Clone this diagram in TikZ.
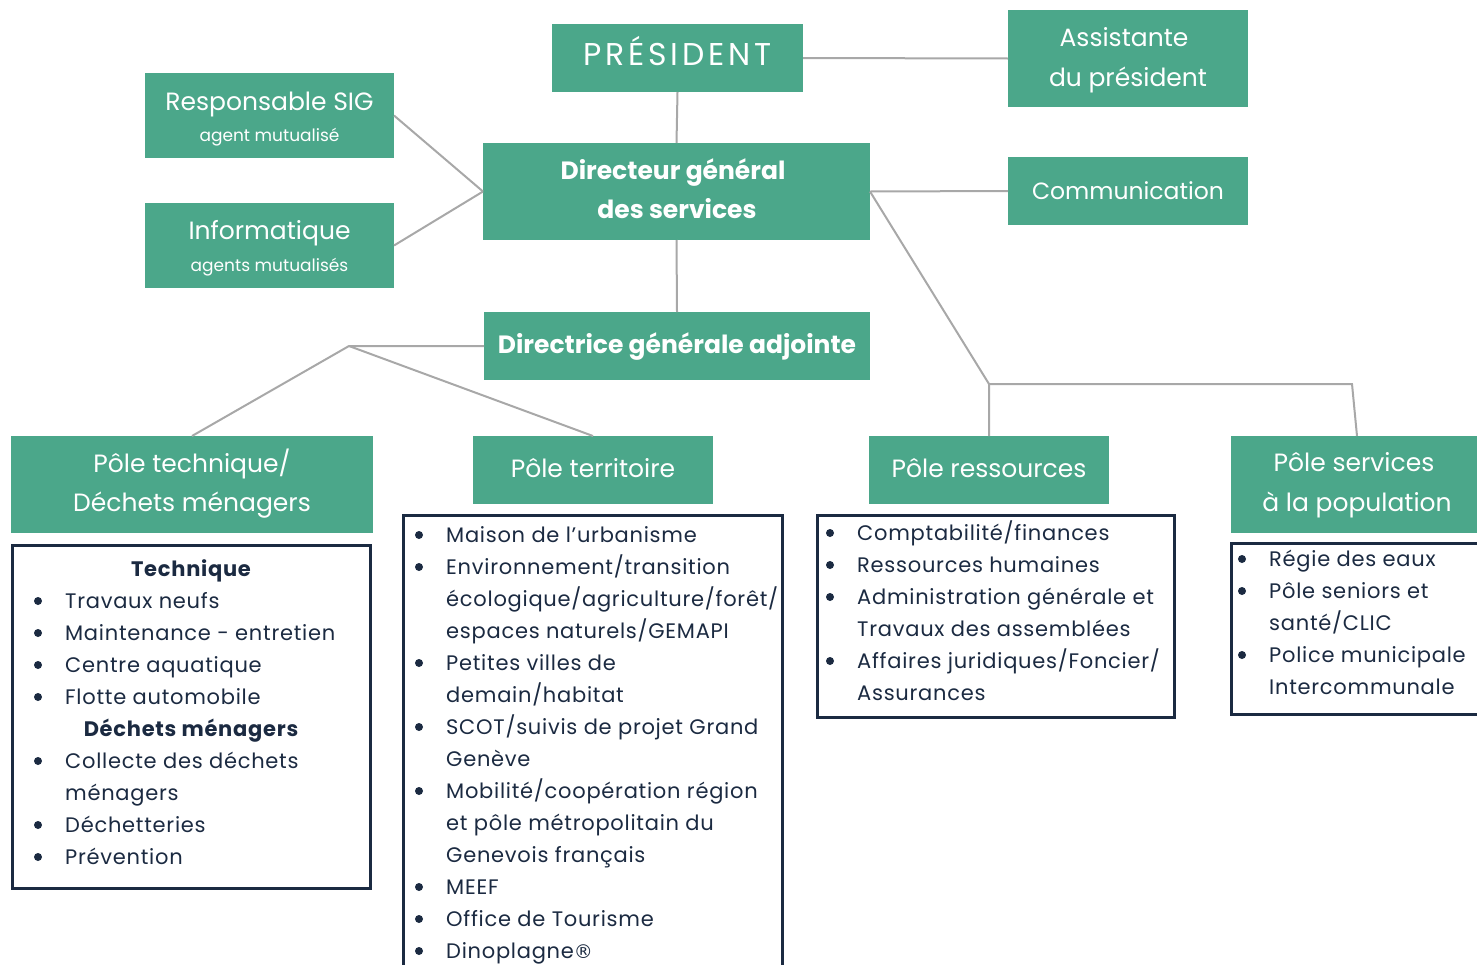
\documentclass[tikz,border=0pt]{standalone}
\usepackage{fontspec}
\setmainfont{Poppins}
\newfontfamily\lstfont[LetterSpace=3.5]{Poppins}
\newfontfamily\presfont[LetterSpace=12]{Poppins}
\newfontfamily\symfont{DejaVu Sans}
\usetikzlibrary{fit}
\definecolor{boxgreen}{HTML}{4BA78A}
\definecolor{linegray}{HTML}{A8A8A8}
\definecolor{navy}{HTML}{1B2A41}
\newcommand\bitem[4]{%
  \node[dot] (#1d) at (#2,#3-7) {};
  \node[lt,anchor=base west] (#1) at (#2+27,#3) {#4};}
\newcommand\citem[4]{%
  \node[lt,anchor=base west] (#1) at (#2+27,#3) {#4};}
\begin{document}
\begin{tikzpicture}[x=1pt,y=-1pt,
  gbox/.style={fill=boxgreen,draw=none,inner sep=0pt,outer sep=0pt},
  lbox/.style={draw=navy,line width=3pt,fill=none,inner sep=0pt,outer sep=0pt},
  conn/.style={draw=linegray,line width=2pt},
  wt/.style={text=white,inner sep=0pt,anchor=base,font=\fontsize{25}{30}\selectfont},
  wtb/.style={wt,font=\fontsize{25}{30}\selectfont\bfseries},
  wts/.style={wt,font=\fontsize{17}{20}\selectfont},
  lt/.style={text=navy,inner sep=0pt,font=\lstfont\fontsize{21}{25}\selectfont},
  lth/.style={lt,anchor=base,font=\lstfont\fontsize{21}{25}\selectfont\bfseries},
  dot/.style={circle,fill=navy,inner sep=0pt,minimum size=8pt}]
\useasboundingbox (0,0) rectangle (1477,964);
% green boxes
\node[gbox,fit={(552,24)(803,92)}] (pres) {};
\node[gbox,fit={(1008,10)(1248,107)}] (asst) {};
\node[gbox,fit={(145,73)(394,158)}] (sig) {};
\node[gbox,fit={(145,203)(394,288)}] (info) {};
\node[gbox,fit={(483,143)(870,240)}] (dgs) {};
\node[gbox,fit={(1008,157)(1248,225)}] (com) {};
\node[gbox,fit={(484,312)(870,380)}] (dga) {};
\node[gbox,fit={(11,436)(373,533)}] (tech) {};
\node[gbox,fit={(473,436)(713,504)}] (terr) {};
\node[gbox,fit={(869,436)(1109,504)}] (res) {};
\node[gbox,fit={(1231,436)(1483,533)}] (serv) {};
% list boxes
\node[lbox,fit={(12,545)(370,888)}] (techL) {};
\node[lbox,fit={(403,515)(782,990)}] (terrL) {};
\node[lbox,fit={(817,515)(1174,717)}] (resL) {};
\node[lbox,fit={(1231,543)(1495,714)}] (servL) {};
% connectors
\draw[conn] (pres.east) -- (asst.west);
\draw[conn] (pres.south) -- (dgs.north);
\draw[conn] (sig.east) -- (dgs.west);
\draw[conn] (info.east) -- (dgs.west);
\draw[conn] (dgs.east) -- (com.west);
\draw[conn] (dgs.south) -- (dga.north);
\coordinate (j1) at (349,346);
\coordinate (j2) at (989,384);
\coordinate (j3) at (1352,384);
\draw[conn] (dga.west) -- (j1) -- (tech.north);
\draw[conn] (j1) -- (terr.north);
\draw[conn] (dgs.east) -- (j2) -- (res.north);
\draw[conn] (j2) -- (j3) -- (serv.north);
% green box texts
\node[wt,font=\presfont\fontsize{31.5}{36}\selectfont] (presT) at (677.5,65.7) {PRÉSIDENT};
\node[wt] (asstT1) at (1124,46) {Assistante};
\node[wt] (asstT2) at (1128,86) {du président};
\node[wt] (sigT1) at (269.5,110) {Responsable SIG};
\node[wts] (sigT2) at (269.5,141) {agent mutualisé};
\node[wt] (infoT1) at (269.5,239) {Informatique};
\node[wts] (infoT2) at (269.5,271.5) {agents mutualisés};
\node[wtb] (dgsT1) at (673,179.3) {Directeur général};
\node[wtb] (dgsT2) at (677,218.3) {des services};
\node[wt,font=\fontsize{23.5}{28}\selectfont] (comT) at (1128,199.5) {Communication};
\node[wtb] (dgaT) at (677,353.3) {Directrice générale adjointe};
\node[wt] (techT1) at (192,472.3) {Pôle technique/};
\node[wt] (techT2) at (192,511.7) {Déchets ménagers};
\node[wt] (terrT) at (593,477.5) {Pôle territoire};
\node[wt] (resT) at (989,477.3) {Pôle ressources};
\node[wt] (servT1) at (1354,471.7) {Pôle services};
\node[wt] (servT2) at (1357,511.7) {à la population};
% technique list
\node[lth] (a0) at (191,576) {Technique};
\bitem{a1}{38}{608}{Travaux neufs}
\bitem{a2}{38}{640}{Maintenance - entretien}
\bitem{a3}{38}{672}{Centre aquatique}
\bitem{a4}{38}{704}{Flotte automobile}
\node[lth] (a5) at (191,736) {Déchets ménagers};
\bitem{a6}{38}{768}{Collecte des déchets}
\citem{a7}{38}{800}{ménagers}
\bitem{a8}{38}{832}{Déchetteries}
\bitem{a9}{38}{864}{Prévention}
% territoire list
\bitem{b0}{419}{542}{Maison de l’urbanisme}
\bitem{b1}{419}{574}{Environnement/transition}
\citem{b2}{419}{606}{écologique/agriculture/forêt/}
\citem{b3}{419}{638}{espaces naturels/GEMAPI}
\bitem{b4}{419}{670}{Petites villes de}
\citem{b5}{419}{702}{demain/habitat}
\bitem{b6}{419}{734}{SCOT/suivis de projet Grand}
\citem{b7}{419}{766}{Genève}
\bitem{b8}{419}{798}{Mobilité/coopération région}
\citem{b9}{419}{830}{et pôle métropolitain du}
\citem{b10}{419}{862}{Genevois français}
\bitem{b11}{419}{894}{MEEF}
\bitem{b12}{419}{926}{Office de Tourisme}
\bitem{b13}{419}{958}{Dinoplagne{\symfont\fontsize{19}{22}\selectfont ®}}
% ressources list
\bitem{c0}{830}{540}{Comptabilité/finances}
\bitem{c1}{830}{572}{Ressources humaines}
\bitem{c2}{830}{604}{Administration générale et}
\citem{c3}{830}{636}{Travaux des assemblées}
\bitem{c4}{830}{668}{Affaires juridiques/Foncier/}
\citem{c5}{830}{700}{Assurances}
% services list
\bitem{d0}{1242}{566}{Régie des eaux}
\bitem{d1}{1242}{598}{Pôle seniors et}
\citem{d2}{1242}{630}{santé/CLIC}
\bitem{d3}{1242}{662}{Police municipale}
\citem{d4}{1242}{694}{Intercommunale}
\end{tikzpicture}
\end{document}
